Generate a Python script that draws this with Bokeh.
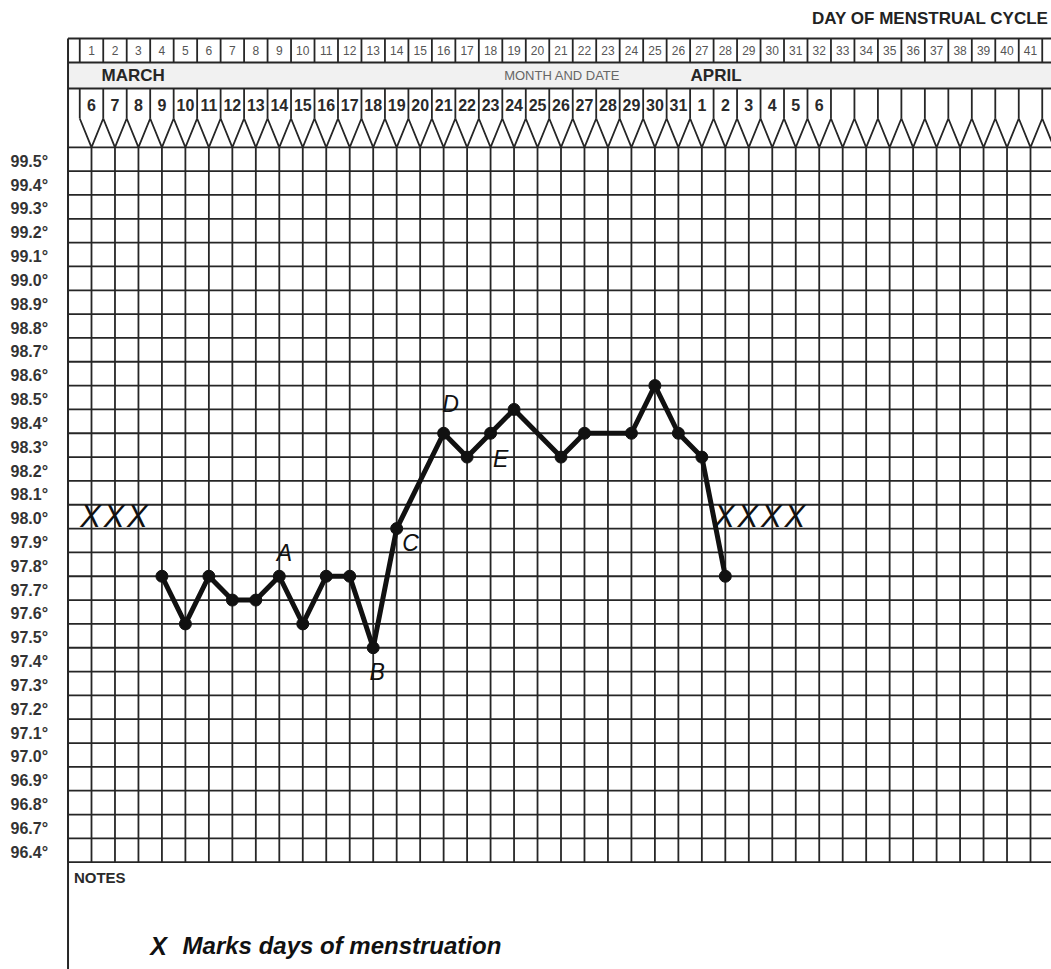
from bokeh.plotting import figure
from bokeh.models import Range1d
from bokeh.core.properties import value
from bokeh.embed import file_html
from bokeh.resources import INLINE

# ---------------- data ----------------
cycle_days = list(range(1, 42))                 # day of menstrual cycle 1..41
march_dates = list(range(6, 32))                # March 6..31 -> cycle days 1..26
april_dates = list(range(1, 7))                 # April 1..6  -> cycle days 27..32
temp_labels = ["99.5", "99.4", "99.3", "99.2", "99.1", "99.0", "98.9", "98.8",
               "98.7", "98.6", "98.5", "98.4", "98.3", "98.2", "98.1", "98.0",
               "97.9", "97.8", "97.7", "97.6", "97.5", "97.4", "97.3", "97.2",
               "97.1", "97.0", "96.9", "96.8", "96.7", "96.4"]
bbt_days = [4, 5, 6, 7, 8, 9, 10, 11, 12, 13, 14, 16, 17, 18, 19, 21, 22, 24, 25, 26, 27, 28]
bbt_temps = [97.8, 97.6, 97.8, 97.7, 97.7, 97.8, 97.6, 97.8, 97.8, 97.5, 98.0,
             98.4, 98.3, 98.4, 98.5, 98.3, 98.4, 98.4, 98.6, 98.4, 98.3, 97.8]
menses_days = [1, 2, 3, 28, 29, 30, 31]
menses_temp = 98.0
marker_letters = ["A", "B", "C", "D", "E"]
marker_days = [9, 13, 14, 16, 18]
month_names = ["MARCH", "APRIL"]

# ---------------- layout ----------------
STEP = 0.1
TOP = 99.6
BOT = TOP - STEP * len(temp_labels)
PX = STEP / 23.83          # temperature units per pixel
DX = 1 / 23.475            # day units per pixel
W, H = 1051, 969
x0 = -67.525 * DX
y1 = TOP + 146.8 * PX
p = figure(width=W, height=H, output_backend="svg", toolbar_location=None,
           x_range=Range1d(x0, x0 + W * DX), y_range=Range1d(y1 - H * PX, y1),
           x_axis_type=None, y_axis_type=None, min_border=0,
           background_fill_color="white", border_fill_color="white")
p.grid.visible = False
p.outline_line_color = None

LC = "#262626"
LW = 1.8
XMAX = 44

h_outer = TOP + 108.8 * PX
h_mid = TOP + 84.8 * PX
h_date = TOP + 58.8 * PX
h_v = TOP + 28.8 * PX

# month row tint
p.quad(left=0, right=XMAX, bottom=h_date, top=h_mid, fill_color="#f1f1f1", line_color=None)

# grid
n_rows = len(temp_labels)
hy = [TOP - STEP * i for i in range(n_rows + 1)]
p.segment(x0=[0] * len(hy), y0=hy, x1=[XMAX] * len(hy), y1=hy, line_color=LC, line_width=LW)
vx = list(range(0, XMAX))
p.segment(x0=vx, y0=[BOT] * len(vx), x1=vx, y1=[TOP] * len(vx), line_color=LC, line_width=LW)

# header lines
for hh in (h_outer, h_mid, h_date):
    p.segment(x0=[0], y0=[hh], x1=[XMAX], y1=[hh], line_color=LC, line_width=LW)
p.segment(x0=[0], y0=[y1 - H * PX], x1=[0], y1=[h_outer], line_color=LC, line_width=2)
half = [d + 0.5 for d in range(0, XMAX)]
p.segment(x0=half, y0=[h_mid] * len(half), x1=half, y1=[h_outer] * len(half), line_color=LC, line_width=LW)
p.segment(x0=half, y0=[h_v] * len(half), x1=half, y1=[h_date] * len(half), line_color=LC, line_width=LW)
zx, zy = [], []
for d in range(0, XMAX):
    zx += [d + 0.5, d + 1]
    zy += [h_v, TOP]
p.line(zx, zy, line_color=LC, line_width=LW)

FONT = value("Liberation Sans")
# title
p.text(x=[x0 + W * DX], y=[TOP + 128.8 * PX], text=["DAY OF MENSTRUAL CYCLE"], text_font=FONT,
       text_font_size="17px", text_font_style="bold", text_align="right", text_baseline="middle",
       x_offset=-3, text_color="#222222")
# cycle day numbers
p.text(x=cycle_days, y=[TOP + 96.8 * PX] * len(cycle_days), text=[str(d) for d in cycle_days],
       text_font=FONT, text_font_size="12px", text_align="center", text_baseline="middle",
       text_color="#555555")
# month names and caption
p.text(x=[1.43, 26.52], y=[TOP + 71.8 * PX] * 2, text=month_names, text_font=FONT,
       text_font_size="17px", text_font_style="bold", text_align="left", text_baseline="middle",
       text_color="#262626")
p.text(x=[21.05], y=[TOP + 71.8 * PX], text=["MONTH AND DATE"], text_font=FONT,
       text_font_size="13px", text_align="center", text_baseline="middle", text_color="#666666")
# calendar dates
dates = march_dates + april_dates
date_days = list(range(1, len(dates) + 1))
p.text(x=date_days, y=[TOP + 42.8 * PX] * len(dates), text=[str(d) for d in dates],
       text_font=FONT, text_font_size="16px", text_font_style="bold", text_align="center",
       text_baseline="middle", text_color="#2a2a2a")

# temperature labels
ty = [TOP - STEP * i - STEP / 2 for i in range(n_rows)]
p.text(x=[x0 + 10 * DX] * n_rows, y=ty, text=[t + "°" for t in temp_labels], text_font=FONT,
       text_font_size="16px", text_font_style="bold", text_align="left", text_baseline="middle",
       y_offset=2, text_color="#333333")

# notes
p.text(x=[0.25], y=[BOT - 15.3 * PX], text=["NOTES"], text_font=FONT, text_font_size="15px",
       text_font_style="bold", text_align="left", text_baseline="middle", text_color="#2a2a2a")
p.text(x=[3.5], y=[BOT - 83.3 * PX], text=["X"], text_font=FONT,
       text_font_size="25px", text_font_style="bold italic", text_align="left",
       text_baseline="middle", text_color="#111111")
p.text(x=[4.88], y=[BOT - 83.3 * PX], text=["Marks days of menstruation"], text_font=FONT,
       text_font_size="24px", text_font_style="bold italic", text_align="left",
       text_baseline="middle", text_color="#111111")

# menstruation marks
p.text(x=menses_days, y=[menses_temp + STEP / 2] * len(menses_days), text=["X"] * len(menses_days),
       text_font=FONT, text_font_size="31px", text_font_style="italic", text_align="center",
       text_baseline="middle", x_offset=-1, text_color="#111111")

# BBT curve
p.line(bbt_days, bbt_temps, line_color="#111111", line_width=5, line_join="round")
p.scatter(bbt_days, bbt_temps, size=12, fill_color="#111111", line_color="#111111")

# letters
mt = [bbt_temps[bbt_days.index(d)] for d in marker_days]
dxs = [5, 4, 14, 7, 10]
dys = [-23, 24, 14, -29, 26]
for L, d, t, ox, oy in zip(marker_letters, marker_days, mt, dxs, dys):
    p.text(x=[d], y=[t], text=[L], text_font=FONT, text_font_size="23px", text_font_style="italic",
           text_align="center", text_baseline="middle", x_offset=ox, y_offset=oy, text_color="#111111")

open("out.html", "w").write(file_html(p, INLINE))
